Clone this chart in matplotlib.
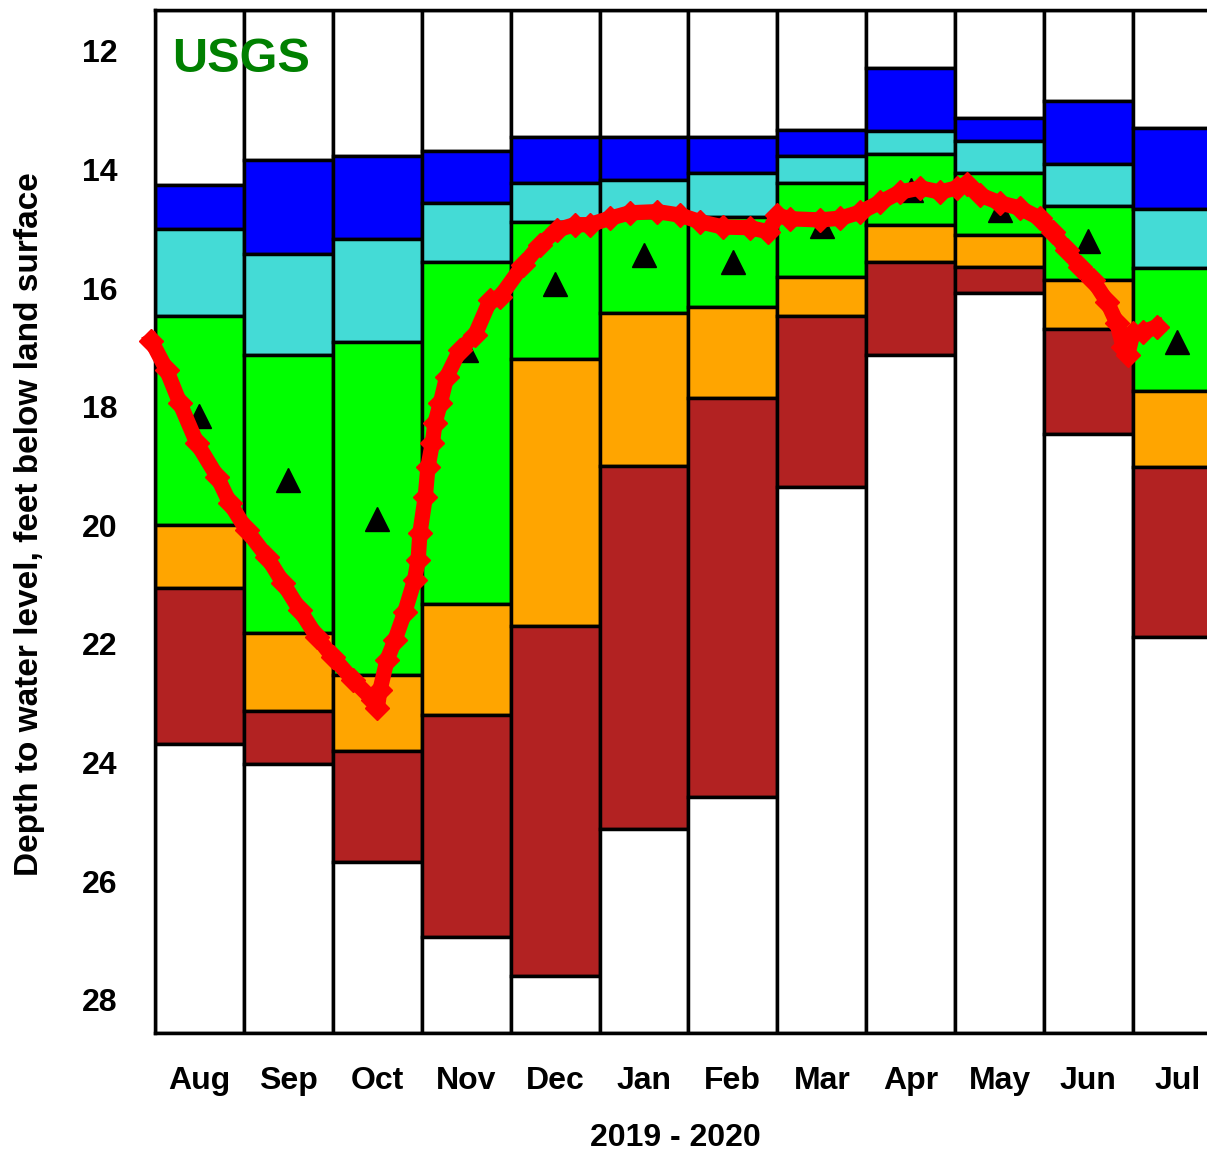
import numpy as np
import matplotlib
matplotlib.use('Agg')
import matplotlib.pyplot as plt

plt.rcParams['font.family'] = ['Liberation Sans', 'DejaVu Sans']

# monthly percentile classes, depth in feet below land surface
months = ['Aug', 'Sep', 'Oct', 'Nov', 'Dec', 'Jan', 'Feb', 'Mar', 'Apr', 'May', 'Jun', 'Jul']
lvl_max = [14.26, 13.84, 13.77, 13.68, 13.45, 13.45, 13.45, 13.33, 12.29, 13.13, 12.85, 13.30]
p90 = [15.00, 15.42, 15.17, 14.56, 14.22, 14.18, 14.06, 13.78, 13.35, 13.52, 13.90, 14.66]
p75 = [16.47, 17.13, 16.91, 15.56, 14.88, 14.80, 14.80, 14.22, 13.74, 14.06, 14.61, 15.66]
p25 = [20.00, 21.82, 22.52, 21.33, 17.19, 16.42, 16.32, 15.82, 14.94, 15.10, 15.87, 17.74]
p10 = [21.05, 23.13, 23.80, 23.20, 21.70, 19.00, 17.85, 16.47, 15.56, 15.65, 16.69, 19.01]
lvl_min = [23.69, 24.02, 25.68, 26.94, 27.60, 25.12, 24.58, 19.35, 17.13, 16.09, 18.46, 21.88]
median = [18.15, 19.24, 19.90, 17.04, 15.93, 15.44, 15.56, 14.95, 14.35, 14.68, 15.20, 16.90]

# daily water level (months since Aug 1)
line_t = [-0.04, 0.13, 0.28, 0.47, 0.70, 0.84, 1.03, 1.26, 1.44, 1.63, 1.82, 2.00,
          2.23, 2.45, 2.50, 2.53, 2.61, 2.70, 2.81, 2.92, 2.96, 2.98, 3.04, 3.07,
          3.12, 3.15, 3.21, 3.28, 3.43, 3.60, 3.77, 3.88, 4.14, 4.33, 4.52, 4.72,
          4.89, 5.12, 5.34, 5.65, 5.91, 6.13, 6.39, 6.69, 6.90, 7.00, 7.14, 7.48,
          7.71, 7.93, 8.16, 8.38, 8.61, 8.83, 9.02, 9.13, 9.28, 9.50, 9.73, 9.95,
          10.10, 10.26, 10.40, 10.55, 10.71, 10.82, 10.89, 10.94, 11.00, 11.11, 11.27]
line_depth = [16.89, 17.38, 17.94, 18.61, 19.18, 19.62, 20.08, 20.53, 20.97, 21.43, 21.88, 22.22,
              22.61, 22.94, 23.08, 22.78, 22.27, 21.93, 21.46, 20.92, 20.58, 20.13, 19.52, 19.02,
              18.61, 18.27, 17.94, 17.50, 17.04, 16.79, 16.20, 16.15, 15.61, 15.27, 15.02, 14.93,
              14.93, 14.82, 14.73, 14.71, 14.77, 14.88, 14.97, 14.98, 15.05, 14.77, 14.83, 14.85,
              14.82, 14.72, 14.55, 14.38, 14.31, 14.38, 14.31, 14.24, 14.43, 14.56, 14.65, 14.82,
              15.05, 15.36, 15.64, 15.86, 16.23, 16.59, 16.99, 17.13, 16.76, 16.74, 16.65]

band_colors = ['white', '#0000ff', '#44dbd6', '#00ff00', '#ffa500', '#b22222', 'white']

Y_TOP, Y_BOT = 11.31, 28.56


def draw_chart(outpath):
    fig = plt.figure(figsize=(12.07, 11.55), dpi=100)
    ax = fig.add_axes([155/1207, 1-1033/1155, 1052/1207, 1023/1155])

    for i in range(len(months)):
        edges = [Y_TOP, lvl_max[i], p90[i], p75[i], p25[i], p10[i], lvl_min[i], Y_BOT]
        for k in range(7):
            ax.bar(i, edges[k+1]-edges[k], bottom=edges[k], width=1, align='edge',
                   color=band_colors[k], edgecolor='black', linewidth=2.5, zorder=1)

    centers = np.arange(len(months)) + 0.5
    ax.plot(centers, median, '^', color='black', ms=17, zorder=3)
    ax.plot(line_t, line_depth, color='red', lw=11, marker='D', ms=12, zorder=4, clip_on=False)

    ax.set_xlim(0, 1052/88.9)
    ax.set_ylim(Y_BOT, Y_TOP)
    ax.set_yticks(range(12, 29, 2))
    ax.set_yticklabels([str(v) for v in range(12, 29, 2)], fontsize=23, fontweight='bold')
    ax.set_xticks(centers)
    ax.set_xticklabels(months, fontsize=23, fontweight='bold')
    ax.tick_params(axis='y', length=0, pad=27)
    ax.tick_params(axis='x', length=0, pad=24)

    for s in ['left', 'top', 'bottom']:
        ax.spines[s].set_linewidth(2.5)
    ax.spines['right'].set_visible(False)

    ax.set_ylabel('Depth to water level, feet below land surface', fontsize=24, fontweight='bold')
    ax.yaxis.set_label_coords(-0.105, 0.497)
    ax.set_xlabel('2019 - 2020', fontsize=23, fontweight='bold', va='top')
    ax.xaxis.set_label_coords(0.495, -0.088)

    ax.text(0.016, 0.939, 'USGS', transform=ax.transAxes, color='#008000',
            fontsize=35, fontweight='bold', va='baseline', ha='left', zorder=5)

    fig.savefig(outpath, dpi=100)


if __name__ == '__main__':
    draw_chart('out.png')
